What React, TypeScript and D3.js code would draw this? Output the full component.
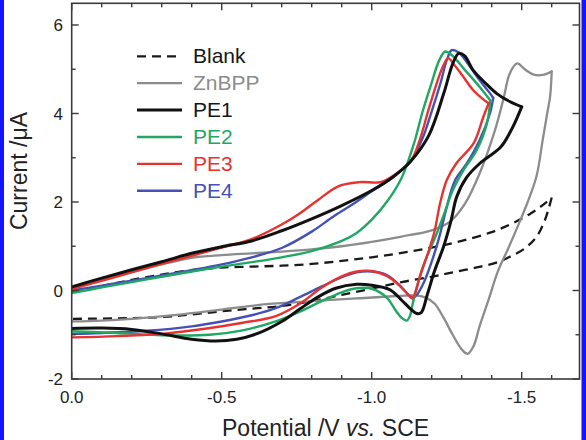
import React from "react";
import * as d3 from "d3";

type Pt = [number, number];

// potential (V vs SCE), current (uA): forward scan then return scan
const blankFwd: Pt[] = [
  [0, -0.04], [-0.1, 0.1], [-0.2, 0.24], [-0.3, 0.36], [-0.4, 0.46], [-0.5, 0.52],
  [-0.6, 0.54], [-0.7, 0.56], [-0.8, 0.6], [-0.9, 0.67], [-1.0, 0.75], [-1.1, 0.85],
  [-1.2, 0.97], [-1.3, 1.12], [-1.4, 1.32], [-1.47, 1.52], [-1.53, 1.74], [-1.57, 1.93], [-1.6, 2.1],
];
const blankRev: Pt[] = [
  [-1.6, 2.1], [-1.59, 1.85], [-1.575, 1.55], [-1.55, 1.22], [-1.51, 0.95], [-1.46, 0.76],
  [-1.42, 0.64], [-1.35, 0.52], [-1.27, 0.41], [-1.2, 0.31], [-1.1, 0.19], [-1.0, 0.04],
  [-0.9, -0.1], [-0.8, -0.24], [-0.7, -0.35], [-0.6, -0.41], [-0.5, -0.47], [-0.4, -0.54],
  [-0.3, -0.6], [-0.15, -0.63], [0, -0.64],
];

const znbppFwd: Pt[] = [
  [0, 0.04], [-0.1, 0.24], [-0.2, 0.42], [-0.3, 0.59], [-0.4, 0.74], [-0.5, 0.8], [-0.6, 0.84],
  [-0.7, 0.88], [-0.8, 0.93], [-0.9, 1.0], [-1.0, 1.1], [-1.1, 1.22], [-1.2, 1.36], [-1.26, 1.55],
  [-1.31, 1.95], [-1.36, 2.65], [-1.41, 3.6], [-1.44, 4.35], [-1.46, 4.9], [-1.485, 5.13],
  [-1.51, 5.0], [-1.54, 4.88], [-1.57, 4.87], [-1.6, 4.95],
];
const znbppRev: Pt[] = [
  [-1.6, 4.95], [-1.595, 4.4], [-1.585, 4.0], [-1.57, 3.4], [-1.55, 2.6], [-1.52, 2.0],
  [-1.49, 1.5], [-1.455, 0.95], [-1.42, 0.42], [-1.39, -0.2], [-1.36, -0.8], [-1.34, -1.25],
  [-1.32, -1.43], [-1.3, -1.33], [-1.27, -1.0], [-1.24, -0.62], [-1.21, -0.3], [-1.18, -0.16],
  [-1.14, -0.11], [-1.07, -0.13], [-0.95, -0.18], [-0.8, -0.24], [-0.65, -0.31], [-0.5, -0.43],
  [-0.35, -0.55], [-0.2, -0.64], [-0.1, -0.68], [0, -0.7],
];

const pe1Fwd: Pt[] = [
  [0, 0.08], [-0.1, 0.28], [-0.2, 0.47], [-0.3, 0.65], [-0.4, 0.84], [-0.5, 0.99], [-0.6, 1.12],
  [-0.7, 1.35], [-0.8, 1.62], [-0.9, 1.92], [-1.0, 2.26], [-1.07, 2.56], [-1.13, 2.92],
  [-1.19, 3.5], [-1.24, 4.45], [-1.27, 5.12], [-1.29, 5.36], [-1.31, 5.3], [-1.338, 4.98],
  [-1.38, 4.68], [-1.417, 4.45], [-1.46, 4.27], [-1.5, 4.15],
];
const pe1Rev: Pt[] = [
  [-1.5, 4.15], [-1.47, 3.69], [-1.43, 3.24], [-1.36, 2.87], [-1.317, 2.56], [-1.283, 2.11],
  [-1.265, 1.59], [-1.24, 1.0], [-1.21, 0.45], [-1.185, -0.1], [-1.165, -0.5], [-1.15, -0.52],
  [-1.13, -0.42], [-1.1, -0.22], [-1.06, 0.02], [-1.0, 0.12], [-0.95, 0.14], [-0.88, 0.05],
  [-0.82, -0.15], [-0.76, -0.42], [-0.7, -0.7], [-0.62, -0.97], [-0.55, -1.1], [-0.48, -1.14],
  [-0.4, -1.1], [-0.3, -0.98], [-0.2, -0.88], [-0.1, -0.85], [0, -0.86],
];

const pe2Fwd: Pt[] = [
  [0, -0.06], [-0.1, 0.07], [-0.2, 0.19], [-0.3, 0.31], [-0.4, 0.43], [-0.5, 0.54], [-0.6, 0.64],
  [-0.7, 0.75], [-0.8, 0.89], [-0.9, 1.12], [-0.95, 1.3], [-1.0, 1.6], [-1.05, 2.0], [-1.1, 2.55],
  [-1.14, 3.3], [-1.17, 4.05], [-1.2, 4.7], [-1.225, 5.2], [-1.245, 5.4], [-1.27, 5.3],
  [-1.306, 5.02], [-1.36, 4.6], [-1.395, 4.3],
];
const pe2Rev: Pt[] = [
  [-1.395, 4.3], [-1.385, 3.8], [-1.35, 3.17], [-1.306, 2.72], [-1.27, 2.26], [-1.245, 1.8],
  [-1.217, 1.29], [-1.17, 0.52], [-1.14, -0.2], [-1.127, -0.58], [-1.117, -0.68], [-1.1, -0.62],
  [-1.08, -0.45], [-1.05, -0.16], [-1.0, 0.04], [-0.95, 0.05], [-0.9, -0.04], [-0.83, -0.25],
  [-0.76, -0.48], [-0.68, -0.7], [-0.57, -0.9], [-0.46, -1.0], [-0.3, -1.01], [-0.15, -0.96], [0, -0.92],
];

const pe3Fwd: Pt[] = [
  [0, 0.03], [-0.1, 0.22], [-0.2, 0.41], [-0.3, 0.6], [-0.43, 0.84], [-0.5, 0.97], [-0.6, 1.16],
  [-0.7, 1.49], [-0.76, 1.74], [-0.82, 2.04], [-0.89, 2.36], [-0.96, 2.45], [-1.03, 2.45],
  [-1.08, 2.63], [-1.13, 2.92], [-1.16, 3.4], [-1.19, 4.1], [-1.22, 4.75], [-1.24, 5.1],
  [-1.255, 5.25], [-1.275, 5.1], [-1.3, 4.88], [-1.338, 4.53], [-1.37, 4.33], [-1.39, 4.23],
];
const pe3Rev: Pt[] = [
  [-1.39, 4.23], [-1.372, 3.92], [-1.34, 3.33], [-1.283, 2.88], [-1.25, 2.49], [-1.228, 1.97],
  [-1.21, 1.35], [-1.195, 1.0], [-1.175, 0.6], [-1.16, 0.3], [-1.145, -0.05], [-1.135, -0.18],
  [-1.12, -0.08], [-1.09, 0.13], [-1.05, 0.33], [-1.0, 0.44], [-0.95, 0.43], [-0.9, 0.32],
  [-0.83, 0.05], [-0.76, -0.3], [-0.68, -0.58], [-0.57, -0.73], [-0.45, -0.86], [-0.3, -0.98],
  [-0.15, -1.03], [0, -1.06],
];

const pe4Fwd: Pt[] = [
  [0, 0.0], [-0.1, 0.11], [-0.2, 0.22], [-0.3, 0.34], [-0.4, 0.46], [-0.5, 0.59], [-0.6, 0.75],
  [-0.7, 0.96], [-0.8, 1.33], [-0.87, 1.66], [-0.93, 1.92], [-1.0, 2.24], [-1.07, 2.56],
  [-1.13, 2.92], [-1.17, 3.45], [-1.2, 4.05], [-1.23, 4.7], [-1.25, 5.2], [-1.267, 5.43],
  [-1.29, 5.38], [-1.317, 5.16], [-1.36, 4.75], [-1.394, 4.46], [-1.405, 4.35],
];
const pe4Rev: Pt[] = [
  [-1.405, 4.35], [-1.394, 4.0], [-1.36, 3.4], [-1.317, 2.87], [-1.278, 2.49], [-1.25, 1.88],
  [-1.225, 1.2], [-1.2, 0.65], [-1.175, 0.2], [-1.15, -0.1], [-1.138, -0.17], [-1.12, -0.08],
  [-1.09, 0.14], [-1.05, 0.35], [-1.0, 0.43], [-0.95, 0.41], [-0.9, 0.3], [-0.83, 0.08],
  [-0.76, -0.15], [-0.68, -0.4], [-0.6, -0.56], [-0.5, -0.7], [-0.4, -0.81], [-0.25, -0.91],
  [-0.1, -0.96], [0, -0.98],
];

const xMajor = [0, -0.5, -1.0, -1.5];
const xLabels = ["0.0", "-0.5", "-1.0", "-1.5"];
const xMinor = [-0.1, -0.2, -0.3, -0.4, -0.6, -0.7, -0.8, -0.9, -1.1, -1.2, -1.3, -1.4, -1.6];
const yMajor = [6, 4, 2, 0, -2];
const yLabels = ["6", "4", "2", "0", "-2"];
const yMinor = [5, 3, 1, -1];

interface Series {
  name: string;
  color: string;
  width: number;
  dash?: string;
  fwd: Pt[];
  rev: Pt[];
}

// legend order
const series: Series[] = [
  { name: "Blank", color: "#1a1a1a", width: 2.3, dash: "9,6", fwd: blankFwd, rev: blankRev },
  { name: "ZnBPP", color: "#8c8c8c", width: 2.3, fwd: znbppFwd, rev: znbppRev },
  { name: "PE1", color: "#111111", width: 3, fwd: pe1Fwd, rev: pe1Rev },
  { name: "PE2", color: "#1fa862", width: 2.4, fwd: pe2Fwd, rev: pe2Rev },
  { name: "PE3", color: "#e8322f", width: 2.4, fwd: pe3Fwd, rev: pe3Rev },
  { name: "PE4", color: "#4352b4", width: 2.4, fwd: pe4Fwd, rev: pe4Rev },
];
// paint order of the curves (PE1 on top)
const drawOrder = ["Blank", "ZnBPP", "PE4", "PE2", "PE3", "PE1"];

const W = 586;
const H = 440;
const left = 71.7, right = 579.5, top = 3.3, bottom = 379;
const FONT = "'Liberation Sans', Arial, Helvetica, sans-serif";

const App: React.FC = () => {
  const x = d3.scaleLinear().domain([0, -1.6927]).range([left, right]);
  const y = d3.scaleLinear().domain([-2, 6.49]).range([bottom, top]);

  const line = d3
    .line<Pt>()
    .x((d) => x(d[0]))
    .y((d) => y(d[1]))
    .curve(d3.curveCatmullRom.alpha(0.5));

  const byName = new Map(series.map((s) => [s.name, s]));
  const tickColor = "#3a3a3a";

  return (
    <svg
      width={W}
      height={H}
      style={{ position: "absolute", left: 0, top: 0, background: "#fff" }}
      fontFamily={FONT}
    >
      <rect x={0} y={0} width={W} height={H} fill="#fff" />

      <defs>
        <clipPath id="plot">
          <rect x={left} y={top} width={right - left} height={bottom - top} />
        </clipPath>
      </defs>

      {/* curves */}
      <g clipPath="url(#plot)" fill="none" strokeLinejoin="round" strokeLinecap="round">
        {drawOrder.map((n) => {
          const s = byName.get(n)!;
          return (
            <g key={n} stroke={s.color} strokeWidth={s.width} strokeDasharray={s.dash}
              strokeLinecap={s.dash ? "butt" : "round"}>
              <path d={line(s.fwd) ?? ""} />
              <path d={line(s.rev) ?? ""} />
            </g>
          );
        })}
      </g>

      {/* frame */}
      <rect x={left} y={top} width={right - left} height={bottom - top}
        fill="none" stroke={tickColor} strokeWidth={1.6} />

      {/* ticks on all four sides, pointing inward */}
      <g stroke={tickColor} strokeWidth={1.4}>
        {xMajor.map((v) => (
          <g key={"xM" + v}>
            <line x1={x(v)} x2={x(v)} y1={bottom} y2={bottom - 7} />
            <line x1={x(v)} x2={x(v)} y1={top} y2={top + 7} />
          </g>
        ))}
        {xMinor.map((v) => (
          <g key={"xm" + v}>
            <line x1={x(v)} x2={x(v)} y1={bottom} y2={bottom - 4} />
            <line x1={x(v)} x2={x(v)} y1={top} y2={top + 4} />
          </g>
        ))}
        {yMajor.map((v) => (
          <g key={"yM" + v}>
            <line x1={left} x2={left + 7} y1={y(v)} y2={y(v)} />
            <line x1={right} x2={right - 7} y1={y(v)} y2={y(v)} />
          </g>
        ))}
        {yMinor.map((v) => (
          <g key={"ym" + v}>
            <line x1={left} x2={left + 4} y1={y(v)} y2={y(v)} />
            <line x1={right} x2={right - 4} y1={y(v)} y2={y(v)} />
          </g>
        ))}
      </g>

      {/* tick labels */}
      <g fontSize={17} fill="#222">
        {xMajor.map((v, i) => (
          <text key={"xl" + v} x={x(v)} y={403} textAnchor="middle">{xLabels[i]}</text>
        ))}
        {yMajor.map((v, i) => (
          <text key={"yl" + v} x={63} y={y(v)} dy="0.36em" textAnchor="end">{yLabels[i]}</text>
        ))}
      </g>

      {/* axis titles */}
      <text x={(left + right) / 2} y={436} textAnchor="middle" fontSize={23} fill="#222">
        Potential /V <tspan fontStyle="italic">vs.</tspan> SCE
      </text>
      <text transform="translate(27,171) rotate(-90)" textAnchor="middle" fontSize={23} fill="#222">
        Current /μA
      </text>

      {/* legend */}
      <g fontSize={21}>
        {series.map((s, i) => {
          const base = 63.3 + i * 26.9;
          return (
            <g key={"lg" + s.name}>
              <line x1={137} x2={182} y1={base - 7} y2={base - 7} stroke={s.color}
                strokeWidth={s.width} strokeDasharray={s.dash} />
              <text x={193} y={base} fill={s.name === "Blank" || s.name === "PE1" ? "#161616" : s.color}>
                {s.name}
              </text>
            </g>
          );
        })}
      </g>

      {/* side bars */}
      <rect x={0} y={0} width={4} height={H} fill="#1414ff" />
      <rect x={581.5} y={0} width={W - 581.5} height={H} fill="#1414ff" />
    </svg>
  );
};

export default App;
